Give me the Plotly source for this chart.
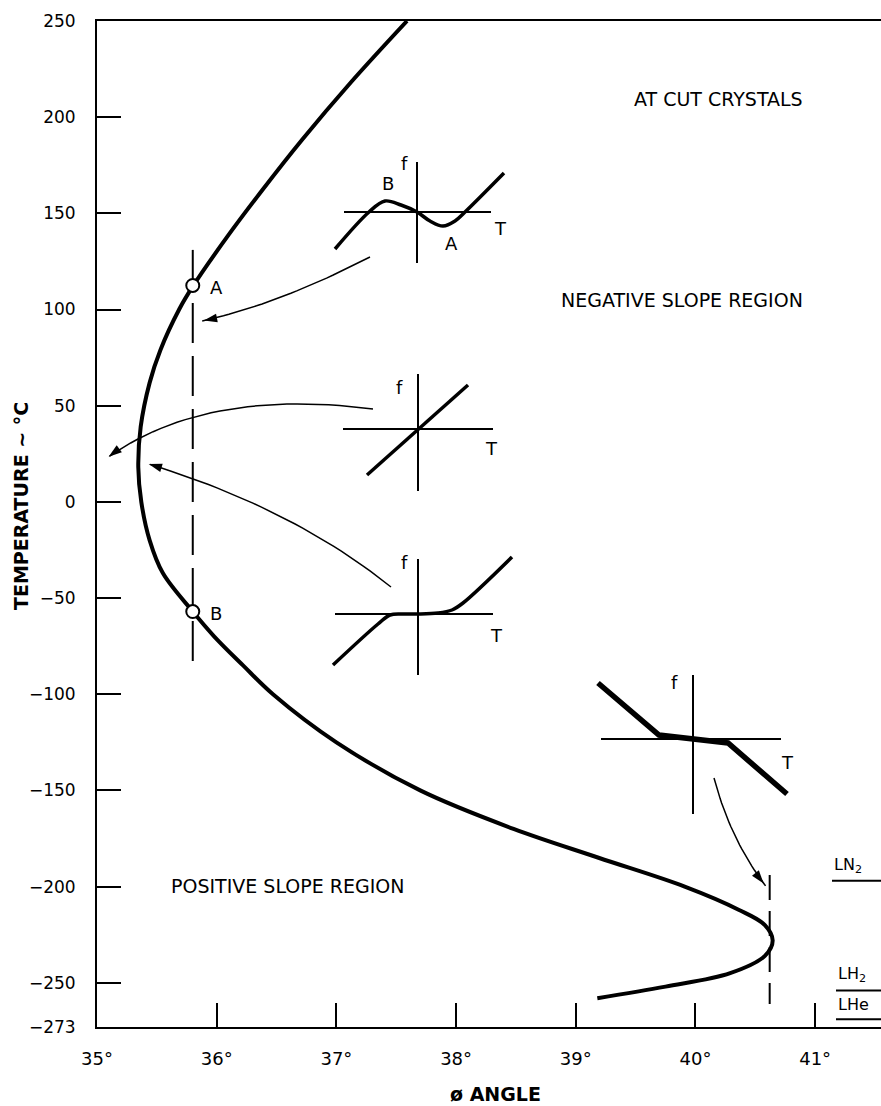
import math
import plotly.graph_objects as go

# ---------------- data ----------------
temperature_c = [250, 218, 188, 162, 138, 112, 100, 79, 62, 39, 18, 0, -20, -37, -57,
                 -70, -85, -100, -125, -150, -170, -185, -200, -212, -220, -228, -236,
                 -245, -252, -258]
angle_deg = [37.59, 37.12, 36.71, 36.38, 36.09, 35.80, 35.686, 35.53, 35.44, 35.365,
             35.345, 35.37, 35.44, 35.55, 35.80, 35.98, 36.22, 36.47, 37.00, 37.70,
             38.48, 39.19, 39.91, 40.36, 40.58, 40.645, 40.58, 40.29, 39.75, 39.18]

point_labels = ["A", "B"]
point_angle = [35.80, 35.80]
point_temp = [112.5, -57.0]

dash_a_angle = [35.80, 35.80]
dash_a_temp = [131, -83]
dash_b_angle = [40.62, 40.62]
dash_b_temp = [-194, -261]

cryo_labels = ["LN<sub>2</sub>", "LH<sub>2</sub>", "LHe"]
cryo_temp = [-197, -254, -269]

y_ticks = [-273, -250, -200, -150, -100, -50, 0, 50, 100, 150, 200, 250]
x_ticks = [35, 36, 37, 38, 39, 40, 41]
x_tick_text = ["35°", "36°", "37°", "38°", "39°", "40°", "41°"]

# schematic f(T) sketches (local units)
cubic_t = [-82, -48, -32, -16, 0, 13, 26, 38, 48, 87]
cubic_f = [-37, 0, 11, 7, 0, -9, -14, -9, 0, 39]
linear_t = [-51, 50]
linear_f = [-46, 44]
flat_t = [-85, -40, -28, -15, 0, 20, 34, 45, 94]
flat_f = [-51, -10, -1, 0, 0, 1, 4, 11, 57]
broken_t = [-95, -34, 35, 94]
broken_f = [56, 4, -4, -55]

# ---------------- layout helpers ----------------
W, H = 881, 1106
ML, MR, MT, MB = 97, 0, 21, 79
X0, X1 = 35.0, 41.55
Y0, Y1 = -273.0, 250.0
PW, PH = W - ML - MR, H - MT - MB


def px2x(px):
    return X0 + (px - ML) / PW * (X1 - X0)


def py2y(py):
    return Y1 - (py - MT) / PH * (Y1 - Y0)


FONT = "DejaVu Sans"
fig = go.Figure()


def add_line(pxs, pys, width, shape="linear", dash=None):
    fig.add_trace(go.Scatter(
        x=[px2x(p) for p in pxs], y=[py2y(p) for p in pys], mode="lines",
        line=dict(color="black", width=width, shape=shape, dash=dash),
        hoverinfo="skip", showlegend=False))


def add_text(px, py, text, size=18, anchor="center", weight="normal"):
    fig.add_annotation(x=px2x(px), y=py2y(py), xref="x", yref="y", text=text,
                       showarrow=False, xanchor=anchor, yanchor="middle",
                       font=dict(family=FONT, size=size, color="black", weight=weight))


def sketch(cx, cy, hx, vy, ts, fs, width, shape):
    add_line([cx + hx[0], cx + hx[1]], [cy, cy], 2)
    add_line([cx, cx], [cy - vy[1], cy - vy[0]], 2)
    add_line([cx + t for t in ts], [cy - f for f in fs], width, shape)


def curved_arrow(p0, c, p1, head=14):
    n = 30
    xs, ys = [], []
    for i in range(n + 1):
        t = i / n
        xs.append((1 - t) ** 2 * p0[0] + 2 * (1 - t) * t * c[0] + t * t * p1[0])
        ys.append((1 - t) ** 2 * p0[1] + 2 * (1 - t) * t * c[1] + t * t * p1[1])
    dx, dy = p1[0] - c[0], p1[1] - c[1]
    L = math.hypot(dx, dy)
    ux, uy = dx / L, dy / L
    add_line(xs[:-1] + [p1[0] - ux * head * 0.6], ys[:-1] + [p1[1] - uy * head * 0.6], 1.5)
    mx, my = p1[0] - ux * head * 0.5, p1[1] - uy * head * 0.5
    ang = math.degrees(math.atan2(dx, -dy))
    fig.add_trace(go.Scatter(x=[px2x(mx)], y=[py2y(my)], mode="markers",
                             marker=dict(symbol="arrow", size=head, angle=ang,
                                         color="black", line=dict(width=0)),
                             hoverinfo="skip", showlegend=False))


# dashed verticals
fig.add_trace(go.Scatter(x=dash_a_angle, y=dash_a_temp, mode="lines",
                         line=dict(color="black", width=2, dash="40px,13px"),
                         hoverinfo="skip", showlegend=False))
fig.add_trace(go.Scatter(x=dash_b_angle, y=dash_b_temp, mode="lines",
                         line=dict(color="black", width=2, dash="25px,11px"),
                         hoverinfo="skip", showlegend=False))

# main turnover curve
fig.add_trace(go.Scatter(x=angle_deg, y=temperature_c, mode="lines",
                         line=dict(color="black", width=4, shape="spline", smoothing=1.0),
                         hoverinfo="skip", showlegend=False))

# A / B points
fig.add_trace(go.Scatter(x=point_angle, y=point_temp, mode="markers",
                         marker=dict(size=13, color="white",
                                     line=dict(color="black", width=2)),
                         hoverinfo="skip", showlegend=False))
for lab, a, t in zip(point_labels, point_angle, point_temp):
    fig.add_annotation(x=a, y=t, text=lab, showarrow=False, xanchor="left",
                       xshift=15, yshift=-2,
                       font=dict(family=FONT, size=18, color="black"))

# cryogenic levels
cryo_px = [832, 836, 836]
for lab, t, lx in zip(cryo_labels, cryo_temp, cryo_px):
    fig.add_trace(go.Scatter(x=[px2x(lx), X1], y=[t, t], mode="lines",
                             line=dict(color="black", width=2),
                             hoverinfo="skip", showlegend=False, cliponaxis=False))
    fig.add_annotation(x=px2x(lx), y=t, text=lab, showarrow=False, xanchor="left",
                       yanchor="bottom", yshift=3,
                       font=dict(family=FONT, size=16, color="black"))

# sketches
sketch(417, 212, (-73, 74), (-51, 50), cubic_t, cubic_f, 3.5, "spline")
add_text(404, 163, "f")
add_text(388, 183, "B")
add_text(451, 243, "A")
add_text(500, 228, "T")

sketch(418, 429, (-75, 75), (-62, 55), linear_t, linear_f, 3.5, "linear")
add_text(399, 387, "f")
add_text(491, 448, "T")

sketch(418, 614, (-83, 75), (-61, 55), flat_t, flat_f, 3.5, "spline")
add_text(404, 562, "f")
add_text(496, 635, "T")

sketch(693, 739, (-92, 88), (-75, 64), broken_t, broken_f, 5.5, "linear")
add_text(674, 682, "f")
add_text(787, 762, "T")

# curved arrows (start, control, tip) in pixels
curved_arrow((370, 257), (275, 306), (197, 322))
curved_arrow((373, 409), (202, 387), (103, 461))
curved_arrow((391, 587), (290, 506), (142, 462))
curved_arrow((714, 778), (731, 842), (768, 889))

# region labels
add_text(805, 99, "AT CUT CRYSTALS", size=19, anchor="right")
add_text(805, 300, "NEGATIVE SLOPE REGION", size=19, anchor="right")
add_text(169, 886, "POSITIVE SLOPE REGION", size=19, anchor="left")

# axis titles (paper coordinates so they are not hidden outside the axes range)
fig.add_annotation(x=(495 - ML) / PW, y=1 - (1094 - MT) / PH, xref="paper", yref="paper",
                   text="ø ANGLE", showarrow=False, xanchor="center", yanchor="middle",
                   font=dict(family=FONT, size=19, color="black", weight="bold"))
fig.add_annotation(x=(21 - ML) / PW, y=1 - (506 - MT) / PH, xref="paper", yref="paper",
                   text="TEMPERATURE ~ °C", showarrow=False, textangle=-90,
                   xanchor="center", yanchor="middle",
                   font=dict(family=FONT, size=19, color="black", weight="bold"))

fig.update_layout(
    width=W, height=H,
    margin=dict(l=ML, r=MR, t=MT, b=MB, pad=0),
    paper_bgcolor="white", plot_bgcolor="white",
    showlegend=False,
    font=dict(family=FONT, size=17, color="black"),
    xaxis=dict(range=[X0, X1], tickvals=x_ticks, ticktext=x_tick_text,
               ticks="inside", ticklen=24, tickwidth=2, tickcolor="black",
               showline=True, linecolor="black", linewidth=2, mirror=True,
               showgrid=False, zeroline=False, ticklabelstandoff=14,
               tickfont=dict(family=FONT, size=18, color="black")),
    yaxis=dict(range=[Y0, Y1], tickvals=y_ticks,
               ticks="inside", ticklen=24, tickwidth=2, tickcolor="black",
               showline=True, linecolor="black", linewidth=2,
               showgrid=False, zeroline=False, ticklabelstandoff=16,
               tickfont=dict(family=FONT, size=17, color="black")),
)

fig.write_html("out.html", config={"displayModeBar": False},
               post_script="document.body.style.margin='0px';")
